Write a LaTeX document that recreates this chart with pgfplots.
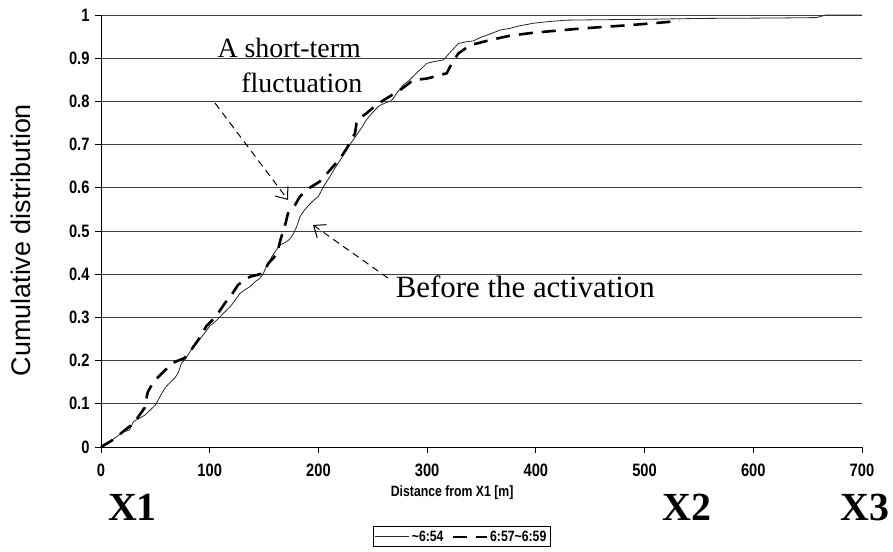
\documentclass[border=0pt]{standalone}
\usepackage{pgfplots}
\pgfplotsset{compat=1.18}
\usepackage{fontspec}
\setmainfont{Liberation Serif}
\newfontfamily\arialfont{Liberation Sans}
\newfontfamily\arialnarrow[FakeStretch=0.82]{Liberation Sans}
\usetikzlibrary{arrows.meta}

\begin{document}
\begin{tikzpicture}[x=1bp,y=1bp]
\path[use as bounding box] (-101,-105) rectangle (792,447);
\begin{axis}[
  anchor=south west, at={(0,0)},
  scale only axis, width=761bp, height=432bp,
  xmin=0, xmax=700, ymin=0, ymax=1,
  axis x line*=bottom, axis y line*=left,
  axis line style={line width=0.8bp},
  xtick={0,100,200,300,400,500,600,700},
  ytick={0,0.1,0.2,0.3,0.4,0.5,0.6,0.7,0.8,0.9,1},
  yticklabels={0,0.1,0.2,0.3,0.4,0.5,0.6,0.7,0.8,0.9,1},
  tick align=outside, major tick length=6bp,
  tick style={line width=0.8bp, black},
  ymajorgrids, grid style={line width=0.8bp, black!75},
  /pgf/number format/assume math mode=true,
  tick label style={font=\arialnarrow\bfseries\fontsize{18}{18}\selectfont},
  xticklabel style={yshift=-7bp},
  yticklabel style={xshift=-2bp},
  clip=false,
  legend style={at={(rel axis cs:0.474,-0.208)}, anchor=center, draw=black,
    line width=0.8bp, inner sep=2bp,
    font=\arialnarrow\bfseries\fontsize{15}{15}\selectfont,
    legend columns=2, /tikz/every even column/.append style={column sep=6bp}},
  legend image code/.code={\draw[#1] (0bp,0bp) -- (34bp,0bp);},
]
\addplot[black!85, line width=0.8bp] coordinates {
(0,0) (8,0.012) (15,0.025) (20.5,0.035) (26,0.039) (30,0.059) (35,0.066)
(40.5,0.074) (45,0.085) (50,0.097) (55,0.12) (59,0.137) (63,0.148) (68,0.16)
(71,0.172) (74,0.194) (78,0.205) (83,0.225) (87,0.237) (91,0.25) (96,0.266)
(100,0.28) (105,0.29) (109,0.30) (114,0.313) (119,0.325) (124,0.342)
(128,0.356) (133,0.365) (137,0.371) (142,0.383) (146,0.39) (149,0.40)
(152,0.417) (157,0.44) (161,0.455) (165,0.468) (170,0.474) (174,0.482)
(177,0.494) (180,0.51) (183,0.533) (187,0.548) (192,0.562) (196,0.572)
(200,0.58) (204.5,0.602) (210.6,0.626) (215,0.645) (220,0.664) (227.5,0.695)
(235,0.722) (240,0.74) (244,0.757) (250,0.775) (256,0.79) (262,0.797)
(266,0.80) (269,0.807) (272,0.819) (278,0.838) (284,0.85) (290,0.865)
(296.5,0.88) (299.6,0.888) (306,0.892) (315,0.896) (321,0.913) (328.7,0.934)
(336,0.938) (342.5,0.94) (350,0.949) (358,0.956) (367,0.965) (376,0.969)
(385,0.975) (398,0.981) (413,0.985) (428,0.988) (459,0.989) (500,0.99)
(551,0.992) (620,0.993) (658,0.994) (667,1.0) (700,1.0)
};
\addlegendentry{\textasciitilde 6:54}
\addplot[black, line width=2.6bp, dash pattern=on 14bp off 9bp] coordinates {
(0,0) (10,0.015) (20,0.035) (30,0.055) (40,0.09) (43,0.127) (47,0.145)
(50,0.155) (55,0.168) (59,0.178) (68,0.197) (77,0.206) (83,0.225) (90,0.25)
(97,0.28) (105,0.30) (110,0.318) (114,0.333) (119,0.348) (126,0.375)
(131,0.385) (137,0.394) (149,0.402) (154,0.425) (158,0.436) (162,0.448)
(165,0.479) (169,0.51) (172,0.541) (178.5,0.56) (183,0.58) (192,0.600)
(201,0.614) (210.6,0.641) (220,0.668) (226,0.691) (233.6,0.726) (235,0.749)
(238,0.761) (244,0.772) (250,0.785) (260,0.803) (275,0.826) (287,0.849)
(300,0.853) (318,0.865) (321,0.88) (328.7,0.911) (339.4,0.93) (358,0.942)
(376,0.952) (398,0.959) (443,0.969) (489,0.977) (532,0.986)
};
\addlegendentry{6:57\textasciitilde 6:59}

% axis titles
\node[rotate=90, font=\arialfont\fontsize{27}{27}\selectfont] at (axis cs:-73.6,0.479) {Cumulative distribution};
\node[font=\arialnarrow\bfseries\fontsize{15}{15}\selectfont] at (axis cs:323,-0.106) {Distance from X1 [m]};

% location markers
\node[font=\bfseries\fontsize{40}{40}\selectfont] at (axis cs:29,-0.139) {X1};
\node[font=\bfseries\fontsize{40}{40}\selectfont] at (axis cs:539,-0.139) {X2};
\node[font=\bfseries\fontsize{40}{40}\selectfont, inner sep=0pt] at (axis cs:703,-0.139) {X3};

% annotations
\node[font=\fontsize{28}{28}\selectfont, anchor=west, inner sep=0pt] at (axis cs:107,0.924) {A short-term};
\node[font=\fontsize{28}{28}\selectfont, anchor=west, inner sep=0pt] at (axis cs:129,0.843) {fluctuation};
\node[font=\fontsize{31}{31}\selectfont, anchor=west, inner sep=0pt] at (axis cs:271,0.37) {Before the activation};
\draw[line width=1bp, dash pattern=on 7bp off 5bp, -{Straight Barb[length=10bp,width=16bp]}]
  (axis cs:104.9,0.796) -- (axis cs:172,0.572);
\draw[line width=1bp, dash pattern=on 7bp off 5bp, -{Straight Barb[length=10bp,width=16bp]}]
  (axis cs:264,0.391) -- (axis cs:195,0.514);
\end{axis}
\end{tikzpicture}
\end{document}
